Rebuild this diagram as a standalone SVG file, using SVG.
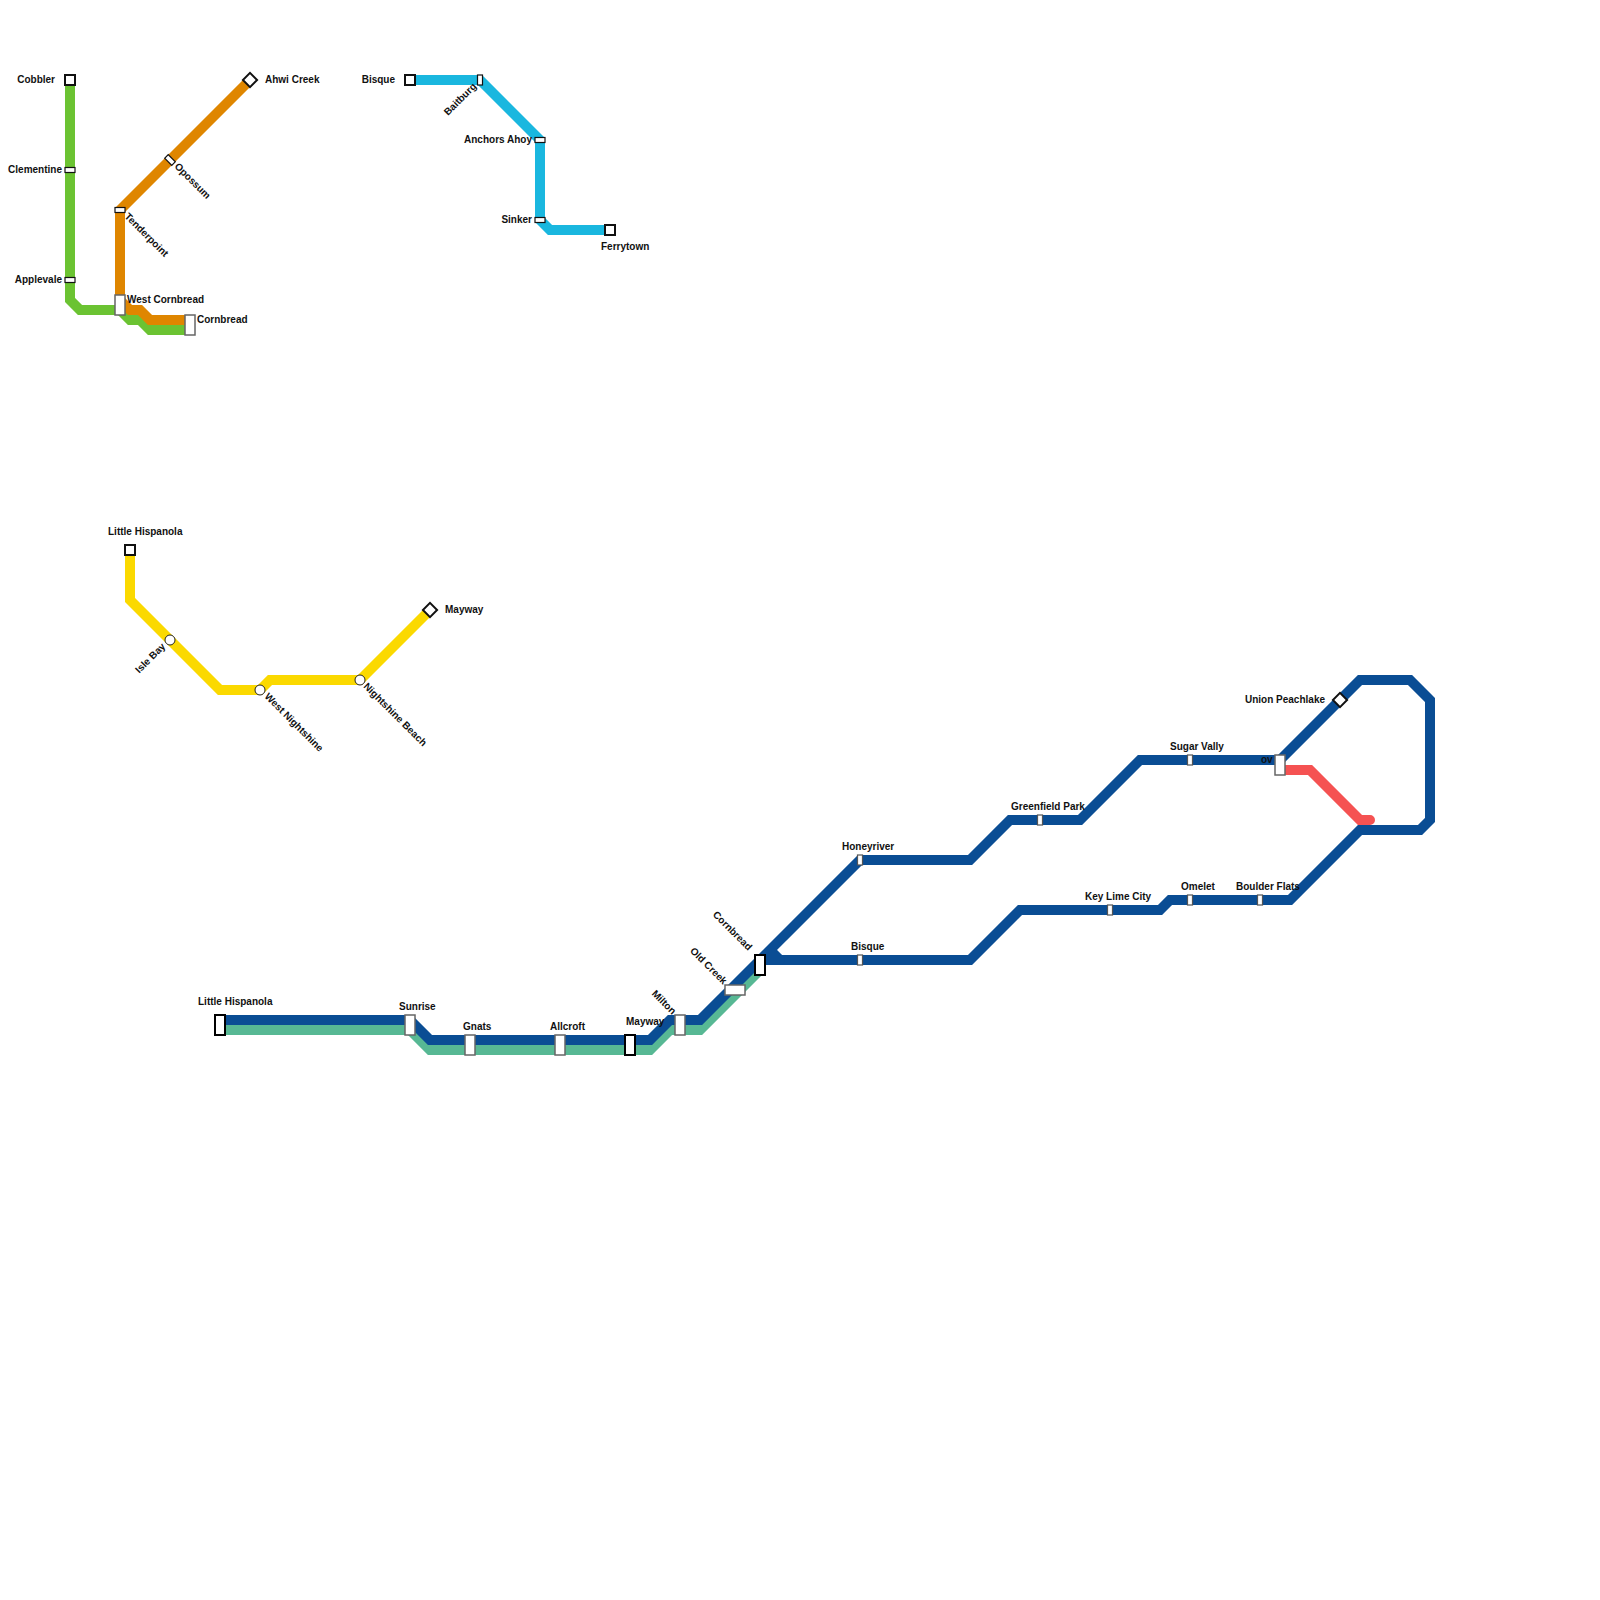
<svg xmlns="http://www.w3.org/2000/svg" width="1600" height="1600" viewBox="0 0 1600 1600">
<style>
.l{fill:none;stroke-width:10;stroke-linecap:round;stroke-linejoin:miter}
.s{fill:#fff;stroke:#111;stroke-width:2}
.t{fill:#fff;stroke:#111;stroke-width:1.2}
.u{fill:#fff;stroke:#555;stroke-width:1.2}
.c{fill:#fff;stroke:#222;stroke-width:1}
.g{fill:#fff;stroke:#666;stroke-width:1.5}
.b{fill:#fff;stroke:#000;stroke-width:2}
text{font-family:"Liberation Sans",Arial,sans-serif;font-size:10px;font-weight:bold;fill:#111}
.e{text-anchor:end}
</style>
<rect width="1600" height="1600" fill="#fff"/>
<g id="connectors">
<path class="l" stroke="#6BC332" d="M70 80V300L80 310H120L130 320H140L150 330H190"/>
<path class="l" stroke="#DF8600" d="M250 80L120 210V300L130 310H140L150 320H190"/>
<path class="l" stroke="#1AB7DF" d="M410 80H480L540 140V220L550 230H610"/>
<path class="l" stroke="#FBD900" d="M130 550V600L220 690H260L270 680H360L430 610"/>
<path class="l" stroke="#57B894" d="M220 1030H410L430 1050H650L670 1030H700L760 970"/>
<path class="l" stroke="#0A4D94" d="M220 1020H410L430 1040H650L670 1020H700L860 860H970L1010 820H1080L1140 760H1280L1360 680H1410L1430 700V820L1420 830H1360L1290 900H1170L1160 910H1020L970 960H780L770 950"/>
<path class="l" stroke="#0A4D94" d="M760 960H780"/>
<path class="l" stroke="#F55252" d="M1280 770H1310L1360 820H1370"/>
</g>
<g id="st-cobbler"><rect class="s" x="65" y="75" width="10" height="10"/><text class="e" x="55" y="83">Cobbler</text></g>
<g id="st-clementine"><rect class="t" x="65" y="167.500" width="10" height="5"/><text class="e" x="62" y="173">Clementine</text></g>
<g id="st-applevale"><rect class="t" x="65" y="277.500" width="10" height="5"/><text class="e" x="62" y="283">Applevale</text></g>
<g id="st-tenderpoint"><rect class="t" x="115" y="207.500" width="10" height="5"/><text transform="translate(124 217) rotate(45)">Tenderpoint</text></g>
<g id="st-opossum"><rect class="t" x="165" y="157.500" width="10" height="5" transform="rotate(45 170 160)"/><text transform="translate(174 167) rotate(45)">Opossum</text></g>
<g id="st-ahwi"><rect class="s" x="245" y="75" width="10" height="10" transform="rotate(45 250 80)"/><text x="265" y="83">Ahwi Creek</text></g>
<g id="st-westcornbread"><rect class="g" x="115" y="295" width="10" height="20"/><text x="127" y="303">West Cornbread</text></g>
<g id="st-cornbread-a"><rect class="g" x="185" y="315" width="10" height="20"/><text x="197" y="323">Cornbread</text></g>
<g id="st-bisque-a"><rect class="s" x="405" y="75" width="10" height="10"/><text class="e" x="395" y="83">Bisque</text></g>
<g id="st-baitburg"><rect class="t" x="477.500" y="75" width="5" height="10"/><text class="e" transform="translate(477 87) rotate(-45)">Baitburg</text></g>
<g id="st-anchors"><rect class="t" x="535" y="137.500" width="10" height="5"/><text class="e" x="532" y="143">Anchors Ahoy</text></g>
<g id="st-sinker"><rect class="t" x="535" y="217.500" width="10" height="5"/><text class="e" x="532" y="223">Sinker</text></g>
<g id="st-ferrytown"><rect class="s" x="605" y="225" width="10" height="10"/><text x="601" y="250">Ferrytown</text></g>
<g id="st-lh-a"><rect class="s" x="125" y="545" width="10" height="10"/><text x="108" y="535">Little Hispanola</text></g>
<g id="st-islebay"><circle class="c" cx="170" cy="640" r="5"/><text class="e" transform="translate(166 647) rotate(-45)">Isle Bay</text></g>
<g id="st-westnight"><circle class="c" cx="260" cy="690" r="5"/><text transform="translate(264 697) rotate(45)">West Nightshine</text></g>
<g id="st-nightbeach"><circle class="c" cx="360" cy="680" r="5"/><text transform="translate(363 687) rotate(45)">Nightshine Beach</text></g>
<g id="st-mayway-a"><rect class="s" x="425" y="605" width="10" height="10" transform="rotate(45 430 610)"/><text x="445" y="613">Mayway</text></g>
<g id="st-lh-b"><rect class="b" x="215" y="1015" width="10" height="20"/><text x="198" y="1005">Little Hispanola</text></g>
<g id="st-sunrise"><rect class="g" x="405" y="1015" width="10" height="20"/><text x="399" y="1010">Sunrise</text></g>
<g id="st-gnats"><rect class="g" x="465" y="1035" width="10" height="20"/><text x="463" y="1030">Gnats</text></g>
<g id="st-allcroft"><rect class="g" x="555" y="1035" width="10" height="20"/><text x="550" y="1030">Allcroft</text></g>
<g id="st-mayway-b"><rect class="b" x="625" y="1035" width="10" height="20"/><text x="626" y="1025">Mayway</text></g>
<g id="st-milton"><rect class="g" x="675" y="1015" width="10" height="20"/><text class="e" transform="translate(672 1015) rotate(45)">Milton</text></g>
<g id="st-oldcreek"><rect class="g" x="725" y="985" width="20" height="10"/><text class="e" transform="translate(723 985) rotate(45)">Old Creek</text></g>
<g id="st-cornbread-b"><rect class="b" x="755" y="955" width="10" height="20"/><text class="e" transform="translate(748 951) rotate(45)">Cornbread</text></g>
<g id="st-honeyriver"><rect class="u" x="857.500" y="855" width="5" height="10"/><text x="842" y="850">Honeyriver</text></g>
<g id="st-bisque-b"><rect class="u" x="857.500" y="955" width="5" height="10"/><text x="851" y="950">Bisque</text></g>
<g id="st-greenfield"><rect class="u" x="1037.500" y="815" width="5" height="10"/><text x="1011" y="810">Greenfield Park</text></g>
<g id="st-keylime"><rect class="u" x="1107.500" y="905" width="5" height="10"/><text x="1085" y="900">Key Lime City</text></g>
<g id="st-omelet"><rect class="u" x="1187.500" y="895" width="5" height="10"/><text x="1181" y="890">Omelet</text></g>
<g id="st-boulder"><rect class="u" x="1257.500" y="895" width="5" height="10"/><text x="1236" y="890">Boulder Flats</text></g>
<g id="st-sugar"><rect class="u" x="1187.500" y="755" width="5" height="10"/><text x="1170" y="750">Sugar Vally</text></g>
<g id="st-ov"><rect class="g" x="1275" y="755" width="10" height="20"/><text x="1261" y="763">ov</text></g>
<g id="st-union"><rect class="s" x="1335" y="695" width="10" height="10" transform="rotate(45 1340 700)"/><text class="e" x="1325" y="703">Union Peachlake</text></g>
</svg>
